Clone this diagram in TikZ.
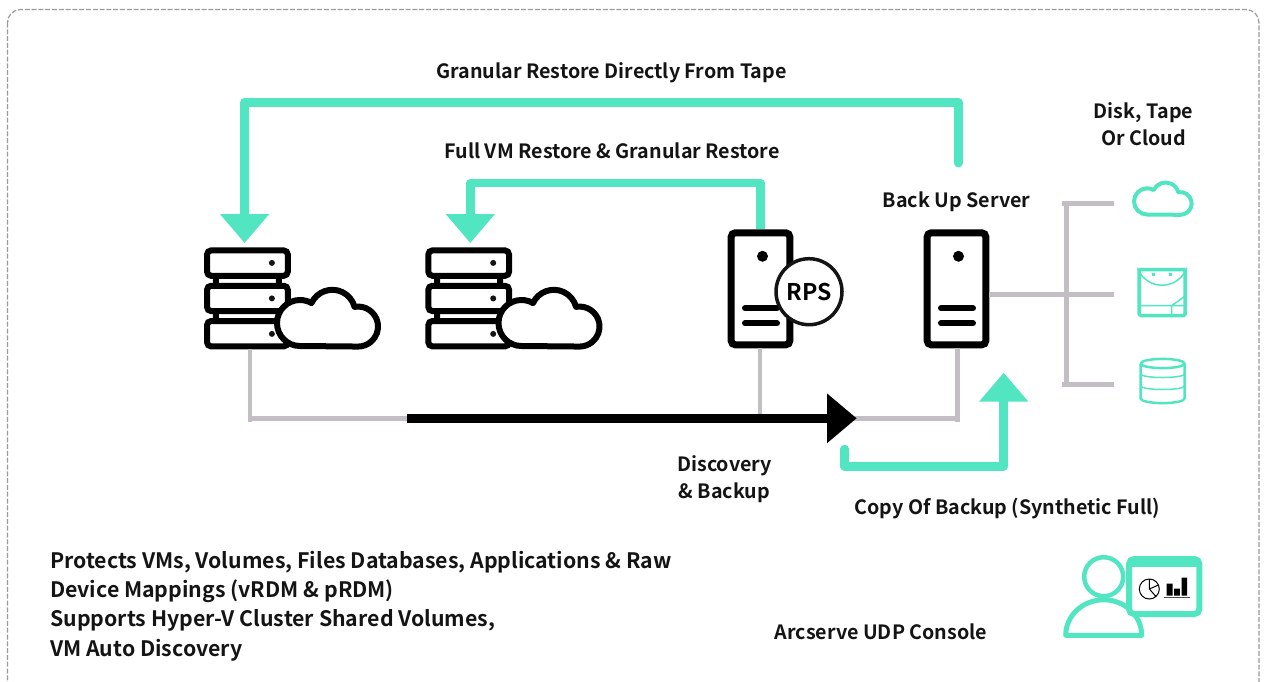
\documentclass[tikz,border=0pt]{standalone}
\usepackage{fontspec}
\setmainfont{Noto Sans CJK SC}[UprightFont=* Bold]
\usepackage{tikz}
\usetikzlibrary{arrows.meta, positioning}
\definecolor{mint}{HTML}{52E5C2}
\definecolor{wire}{HTML}{C2BEC4}
\definecolor{framegrey}{HTML}{9A9A9F}
\definecolor{inkblack}{HTML}{141414}
\tikzstyle{mintarrow} = [draw=mint, line width=9pt, line join=round, line cap=round, -{Triangle[width=47.5pt,length=29pt]}]
\tikzstyle{wireline} = [draw=wire, line width=4.5pt]
\tikzstyle{backuparrow} = [draw=black, line width=9.5pt, -{Triangle[width=47.5pt,length=29.5pt]}]
\tikzstyle{caption} = [text=inkblack, inner sep=0pt, font=\fontsize{19.7}{27}\selectfont]
\tikzstyle{rackunit} = [rectangle, draw=black, fill=white, line width=6pt, rounded corners=4pt, inner sep=0pt, minimum width=80.7pt, minimum height=25.3pt]
\tikzstyle{towerbox} = [rectangle, draw=black, fill=white, line width=7pt, rounded corners=4pt, inner sep=0pt, minimum width=58.6pt, minimum height=112pt]
\tikzset{
	cloudicon/.pic = {
		\draw [pic actions, fill=white, line join=round]
			(23,0) arc[start angle=-90, end angle=-300, radius=23]
			arc[start angle=155, end angle=15, radius=23]
			arc[start angle=100, end angle=-90, radius=20] -- cycle;
	},
	rackstack/.pic = {
		\fill [black] (-34.5,-21) rectangle (-28.5,21) (28.5,-21) rectangle (34.5,21);
		\node (mid) [rackunit] at (0,0) {};
		\node (top) [rackunit, above=4pt of mid] {};
		\node (bot) [rackunit, below=4pt of mid] {};
		\fill [inkblack] (24.5,35.5) circle (3) (24.5,0) circle (3) (24.5,-35.5) circle (3);
	},
	towericon/.pic = {
		\node (box) [towerbox] at (0,0) {};
		\fill [black] (2,32.5) circle (5.5);
		\draw [black, line width=6pt, line cap=round] (-15.5,-19.5) -- (16.5,-19.5) (-15.5,-34.5) -- (16.5,-34.5);
	}
}

\begin{document}
\begin{tikzpicture}[x=1pt, y=1pt, node distance=221pt]
\clip (0,-681) rectangle (1264,0);
\draw [framegrey, line width=1.2pt, dash pattern=on 5pt off 1.8pt, rounded corners=13pt] (7.5,-9.5) rectangle (1259,-695);
%----------------------------------------------------------------------------
% Placement of servers
\pic (rackA) at (247.4,-298.4) {rackstack};
\pic (rackB) at (468.7,-298.4) {rackstack};
\pic [draw=black, line width=6pt] at (277,-346) {cloudicon};
\pic [draw=black, line width=6pt] at (498.5,-346) {cloudicon};
\pic (rps) at (760.5,-288.8) {towericon};
\pic (backup) at (956.5,-288.8) {towericon};
\node (rpsBadge) [circle, draw=inkblack, fill=white, line width=3.5pt, inner sep=0pt, minimum size=66pt, font=\fontsize{23}{28}\selectfont] at (809,-291.7) {RPS};

%----------------------------------------------------------------------------
% Storage targets
\pic [draw=mint, line width=4pt, scale=.57] at (1134,-214.5) {cloudicon};

\node (tapeBox) [rectangle, draw=mint, line width=3.5pt, rounded corners=1.5pt, inner sep=0pt, minimum width=46pt, minimum height=46pt] at (1162.2,-292.5) {};
\draw [mint, line width=1.5pt] (tapeBox.north west) .. controls (1146,-291) and (1178,-291) .. (tapeBox.north east);
\draw [mint, line width=1.5pt] (1139,-305.7) -- (1185,-305.7) (1171.7,-305.7) -- (1171.7,-316) (1171.7,-305.7) -- (1184.5,-296.5);
\fill [mint] (1151.8,-275.8) rectangle +(3,3) (1168.8,-275.8) rectangle +(3,3);

\draw [mint, line width=2.5pt, line join=round] (1140.6,-363.5) arc[start angle=180, end angle=-180, x radius=22, y radius=4.6];
\draw [mint, line width=2.5pt, line join=round] (1140.6,-363.5) -- (1140.6,-398.5) arc[start angle=180, end angle=360, x radius=22, y radius=4.6] -- (1184.6,-363.5);
\draw [mint, line width=1.5pt] (1140.6,-374) arc[start angle=180, end angle=360, x radius=22, y radius=3.5];
\draw [mint, line width=1.5pt] (1140.6,-386) arc[start angle=180, end angle=360, x radius=22, y radius=3.5];

%----------------------------------------------------------------------------
% Console
\node (consoleHead) [circle, draw=mint, fill=white, line width=4.5pt, inner sep=0pt, minimum size=39pt] at (1103.7,-576.7) {};
\draw [mint, fill=white, line width=5pt, line join=round] (1065.7,-635.3) arc[start angle=180, end angle=0, x radius=38, y radius=35.5] -- cycle;
\node (consoleScreen) [rectangle, draw=mint, fill=white, line width=6pt, rounded corners=5pt, inner sep=0pt, minimum width=70.3pt, minimum height=55pt] at (1164.2,-586.5) {};
\fill [mint] (1129,-559) rectangle (1199.3,-566.7);
\draw [black, line width=1pt] (1149.3,-589) circle (10) (1149.3,-589) -- (1149.3,-579) (1149.3,-589) -- (1158.5,-585) (1149.3,-589) -- (1156,-596.5);
\fill [black] (1166.7,-583.5) rectangle (1172.5,-595.5) (1174.2,-588.5) rectangle (1179.8,-595.5) (1181.5,-577.7) rectangle (1187,-595.5);
\draw [black!70, line width=1pt] (1164.3,-597.3) -- (1190,-597.3);

%----------------------------------------------------------------------------
% Lines
\coordinate (busLeft) at (250,-418.3);
\coordinate (busRight) at (957.7,-418.3);
\draw [wireline, shorten >=-3.5pt] ([xshift=2.6pt]rackAbot.south) -- (busLeft);
\draw [wireline] (busLeft) -- (busRight);
\draw [wireline, shorten >=-3.5pt] ([xshift=1.2pt]backupbox.south) -- (busRight);
\draw [wireline] ([xshift=-.5pt]rpsbox.south) -- ([xshift=-.5pt]rpsbox.south |- busLeft);

\coordinate (branchCloud) at (1114,-203.7);
\coordinate (branchTape) at (1114,-294.3);
\coordinate (branchDisk) at (1114,-384.3);
\draw [wireline] (backupbox.east |- branchTape) -- (branchTape);
\draw [wireline] (branchCloud) -- (1062,-203.7);
\draw [wireline] (branchDisk) -- (1062,-384.3);
\draw [wireline] (1066.3,-201.5) -- (1066.3,-386.5);

\coordinate (discoveryStart) at (407,-418.3);
\draw [backuparrow] (discoveryStart) -- (856.7,-418.3);

%----------------------------------------------------------------------------
% Draw restore and copy arrows
\coordinate (tapeRestoreStart) at (958,-163);
\coordinate (rackATip) at (244.6,-243);
\coordinate (rackBTip) at (470.3,-243);
\draw [mintarrow] (tapeRestoreStart) -- +(0,61) -| (rackATip);
\draw [mintarrow, line width=8.5pt, line cap=butt] (rpsbox.north) -- +(0,46.5) -| (rackBTip);
\coordinate (copyStart) at (844.7,-449);
\draw [mintarrow, line width=8.5pt] (copyStart) -- +(0,-17.7) -| (1003.7,-372.7);

%----------------------------------------------------------------------------
% Labels
\node (tapeRestoreText) [caption, anchor=base] at (611.5,-78) {Granular Restore Directly From Tape};
\node (vmRestoreText) [caption, anchor=base] at (612,-158) {Full VM Restore \& Granular Restore};
\node (storageText) [caption, align=center] at (1143.5,-124) {Disk, Tape\\Or Cloud};
\node (backupText) [caption, anchor=base] at (956.5,-207) {Back Up Server};
\node (discoveryText) [caption, align=center] at (724.5,-479) {Discovery\\\& Backup};
\node (copyText) [caption, anchor=base] at (1007.5,-514) {Copy Of Backup (Synthetic Full)};
\node (protectsText) [caption, align=left, anchor=west, font=\fontsize{21.3}{29.4}\selectfont] at (50,-606) {Protects VMs, Volumes, Files Databases, Applications \& Raw\\Device Mappings (vRDM \& pRDM)\\Supports Hyper-V Cluster Shared Volumes,\\VM Auto Discovery};
\node (consoleText) [caption, anchor=base] at (881,-639) {Arcserve UDP Console};

\end{tikzpicture}
\end{document}
